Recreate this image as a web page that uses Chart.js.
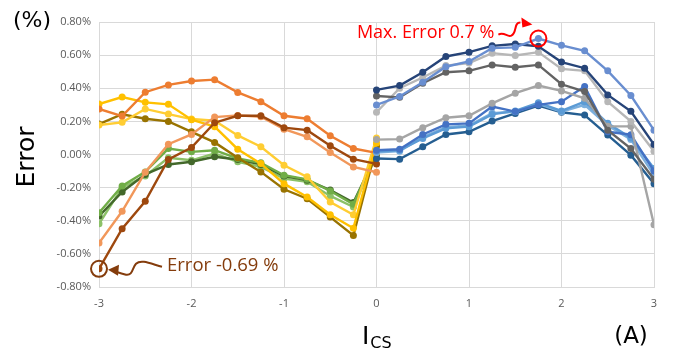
<!DOCTYPE html>
<html>
<head>
<meta charset="utf-8">
<script src="https://cdn.jsdelivr.net/npm/chart.js@4/dist/chart.umd.min.js"></script>
<style>
  html, body { margin: 0; padding: 0; background: #ffffff; }
  #wrap { width: 674px; height: 348px; }
</style>
</head>
<body>
<div id="wrap"><canvas id="c" width="674" height="348"></canvas></div>
<script>
// Current sweep points (A)
const currentNeg = [-3, -2.75, -2.5, -2.25, -2, -1.75, -1.5, -1.25, -1, -0.75, -0.5, -0.25, 0];
const currentPos = [0, 0.25, 0.5, 0.75, 1, 1.25, 1.5, 1.75, 2, 2.25, 2.5, 2.75, 3];

// Error (%) for negative current
const errOrange      = [0.275, 0.232, 0.376, 0.42, 0.444, 0.452, 0.375, 0.319, 0.234, 0.216, 0.113, 0.036, 0.01];
const errBrown       = [-0.69, -0.448, -0.283, -0.03, 0.042, 0.192, 0.234, 0.234, 0.162, 0.147, 0.053, -0.028, -0.057];
const errLightOrange = [-0.535, -0.343, -0.107, 0.062, 0.121, 0.226, 0.236, 0.228, 0.153, 0.107, 0.012, -0.075, -0.107];
const errGold        = [0.305, 0.347, 0.315, 0.303, 0.21, 0.168, 0.032, -0.055, -0.176, -0.257, -0.364, -0.445, 0.07];
const errLightGold   = [0.178, 0.194, 0.275, 0.244, 0.214, 0.204, 0.115, 0.047, -0.065, -0.135, -0.287, -0.364, 0.10];
const errOlive       = [0.184, 0.243, 0.216, 0.2, 0.137, 0.073, -0.02, -0.105, -0.21, -0.267, -0.378, -0.489, 0.05];
const errGreen       = [-0.352, -0.19, -0.105, 0.036, 0.016, 0.026, -0.024, -0.05, -0.125, -0.15, -0.22, -0.30, 0.01];
const errDarkGreen   = [-0.372, -0.226, -0.12, -0.06, -0.044, -0.014, -0.03, -0.06, -0.13, -0.155, -0.215, -0.29, 0.0];
const errLightGreen  = [-0.418, -0.20, -0.13, -0.02, -0.035, 0.006, -0.044, -0.075, -0.145, -0.165, -0.25, -0.317, -0.005];

// Error (%) for positive current
const errNavy        = [0.39, 0.416, 0.497, 0.592, 0.618, 0.656, 0.667, 0.653, 0.558, 0.521, 0.36, 0.261, 0.06];
const errDarkGray    = [0.353, 0.345, 0.43, 0.497, 0.505, 0.541, 0.527, 0.541, 0.424, 0.38, 0.147, 0.036, -0.15];
const errLightGray   = [0.255, 0.40, 0.465, 0.537, 0.552, 0.612, 0.598, 0.618, 0.517, 0.505, 0.319, 0.20, 0.02];
const errBlueTop     = [0.299, 0.35, 0.436, 0.53, 0.562, 0.642, 0.647, 0.70, 0.659, 0.626, 0.505, 0.356, 0.147];
const errGrayLow     = [0.09, 0.093, 0.162, 0.222, 0.234, 0.309, 0.37, 0.416, 0.384, 0.339, 0.17, 0.17, -0.424];
const errBlue        = [0.026, 0.032, 0.121, 0.182, 0.188, 0.289, 0.259, 0.30, 0.319, 0.41, 0.137, 0.12, -0.10];
const errLightBlue   = [0.02, 0.026, 0.097, 0.158, 0.168, 0.242, 0.263, 0.313, 0.263, 0.319, 0.188, 0.10, -0.085];
const errLighterBlue = [0.012, 0.02, 0.105, 0.165, 0.175, 0.25, 0.258, 0.305, 0.258, 0.30, 0.175, 0.09, -0.125];
const errDarkBlue    = [-0.024, -0.028, 0.047, 0.121, 0.137, 0.202, 0.248, 0.295, 0.255, 0.238, 0.117, -0.004, -0.176];

// Axis ticks
const xTicks = [-3, -2, -1, 0, 1, 2, 3];
const yTicks = [-0.8, -0.6, -0.4, -0.2, 0, 0.2, 0.4, 0.6, 0.8];

// Highlighted extremes
const maxPoint = { x: 1.75, y: 0.70, text: 'Max. Error 0.7 %' };
const minPoint = { x: -3, y: -0.69, text: 'Error -0.69 %' };

function series(xs, ys, color) {
  return {
    data: xs.map((x, i) => ({ x: x, y: ys[i] })),
    borderColor: color,
    backgroundColor: color,
    pointBackgroundColor: color,
    pointBorderWidth: 0,
    pointRadius: 3.5,
    borderWidth: 2.4,
    tension: 0,
    fill: false
  };
}

const datasets = [
  series(currentPos, errBlueTop, '#698ED0'),
  series(currentPos, errNavy, '#264478'),
  series(currentPos, errDarkGray, '#636363'),
  series(currentPos, errLightGray, '#B7B7B7'),
  series(currentPos, errGrayLow, '#A5A5A5'),
  series(currentPos, errBlue, '#4472C4'),
  series(currentPos, errLightBlue, '#5B9BD5'),
  series(currentPos, errLighterBlue, '#7CAFDD'),
  series(currentPos, errDarkBlue, '#255E91'),
  series(currentNeg, errBrown, '#9E480E'),
  series(currentNeg, errOrange, '#ED7D31'),
  series(currentNeg, errLightOrange, '#F1975A'),
  series(currentNeg, errGold, '#FFC000'),
  series(currentNeg, errLightGold, '#FFCD33'),
  series(currentNeg, errOlive, '#997300'),
  series(currentNeg, errGreen, '#70AD47'),
  series(currentNeg, errDarkGreen, '#43682B'),
  series(currentNeg, errLightGreen, '#8CC168')
];

// Axis captions and the two callouts
const decorations = {
  id: 'decorations',
  afterDraw(chart) {
    const ctx = chart.ctx;
    const xs = chart.scales.x, ys = chart.scales.y;
    ctx.save();

    // axis captions
    ctx.fillStyle = '#000000';
    ctx.textBaseline = 'middle';
    ctx.textAlign = 'left';
    ctx.font = '22px "DejaVu Sans"';
    ctx.fillText('(%)', 13, 21);

    ctx.save();
    ctx.translate(27, 157);
    ctx.rotate(-Math.PI / 2);
    ctx.textAlign = 'center';
    ctx.font = '25px "DejaVu Sans"';
    ctx.fillText('Error', 0, 0);
    ctx.restore();

    ctx.textBaseline = 'alphabetic';
    ctx.font = '25px "DejaVu Sans"';
    ctx.fillText('I', 362, 344);
    const iw = ctx.measureText('I').width;
    ctx.font = '16px "DejaVu Sans"';
    ctx.fillText('CS', 362 + iw + 1, 348);

    ctx.textAlign = 'center';
    ctx.font = '23px "DejaVu Sans"';
    ctx.fillText('(A)', 631, 343);

    // maximum callout
    const px = xs.getPixelForValue(maxPoint.x);
    const py = ys.getPixelForValue(maxPoint.y);
    ctx.strokeStyle = '#FF0000';
    ctx.fillStyle = '#FF0000';
    ctx.lineWidth = 2;
    ctx.beginPath();
    ctx.arc(px, py, 8, 0, Math.PI * 2);
    ctx.stroke();
    ctx.beginPath();
    ctx.moveTo(px - 40, py - 4);
    ctx.bezierCurveTo(px - 34, py - 7, px - 31, py - 1, px - 27, py - 3);
    ctx.bezierCurveTo(px - 21, py - 6, px - 25, py - 16, px - 18, py - 16);
    ctx.stroke();
    ctx.beginPath();
    ctx.moveTo(px - 6, py - 14);
    ctx.lineTo(px - 17, py - 21);
    ctx.lineTo(px - 16, py - 11);
    ctx.closePath();
    ctx.fill();
    ctx.textAlign = 'right';
    ctx.textBaseline = 'middle';
    ctx.font = '18px "Open Sans"';
    ctx.fillText(maxPoint.text, px - 44, py - 6);

    // minimum callout
    const qx = xs.getPixelForValue(minPoint.x);
    const qy = ys.getPixelForValue(minPoint.y);
    ctx.strokeStyle = '#843C0C';
    ctx.fillStyle = '#843C0C';
    ctx.lineWidth = 2;
    ctx.beginPath();
    ctx.arc(qx, qy, 8, 0, Math.PI * 2);
    ctx.stroke();
    ctx.beginPath();
    ctx.moveTo(qx + 63, qy - 2);
    ctx.bezierCurveTo(qx + 52, qy - 5, qx + 42, qy - 10, qx + 37, qy - 5);
    ctx.bezierCurveTo(qx + 33, qy - 1, qx + 34, qy + 7, qx + 27, qy + 6);
    ctx.bezierCurveTo(qx + 23, qy + 5, qx + 20, qy + 4, qx + 17, qy + 3);
    ctx.stroke();
    ctx.beginPath();
    ctx.moveTo(qx + 9, qy + 1);
    ctx.lineTo(qx + 20, qy - 4);
    ctx.lineTo(qx + 19, qy + 7);
    ctx.closePath();
    ctx.fill();
    ctx.textAlign = 'left';
    ctx.font = '18.5px "Open Sans"';
    ctx.fillText(minPoint.text, qx + 68, qy - 3);

    ctx.restore();
  }
};

new Chart(document.getElementById('c'), {
  type: 'line',
  data: { datasets: datasets },
  options: {
    responsive: false,
    animation: false,
    devicePixelRatio: 1,
    layout: { padding: { left: 55, right: 20, top: 22, bottom: 31 } },
    plugins: { legend: { display: false }, tooltip: { enabled: false } },
    scales: {
      x: {
        type: 'linear',
        min: -3, max: 3,
        afterFit(scale) { scale.height = 30; },
        afterBuildTicks(scale) { scale.ticks = xTicks.map(v => ({ value: v })); },
        grid: { color: '#D9D9D9', lineWidth: 1, drawTicks: false },
        border: { color: '#D9D9D9', width: 1 },
        ticks: {
          padding: 10,
          color: '#595959',
          font: { family: 'Open Sans', size: 11 },
          callback: v => String(v)
        }
      },
      y: {
        type: 'linear',
        min: -0.8, max: 0.8,
        afterFit(scale) { scale.width = 44; },
        afterBuildTicks(scale) { scale.ticks = yTicks.map(v => ({ value: v })); },
        grid: { color: '#D9D9D9', lineWidth: 1, drawTicks: false },
        border: { color: '#D9D9D9', width: 1 },
        ticks: {
          padding: 8,
          color: '#595959',
          font: { family: 'Open Sans', size: 11 },
          callback: v => (Math.abs(v) < 1e-9 ? 0 : v).toFixed(2) + '%'
        }
      }
    }
  },
  plugins: [decorations]
});
</script>
</body>
</html>
